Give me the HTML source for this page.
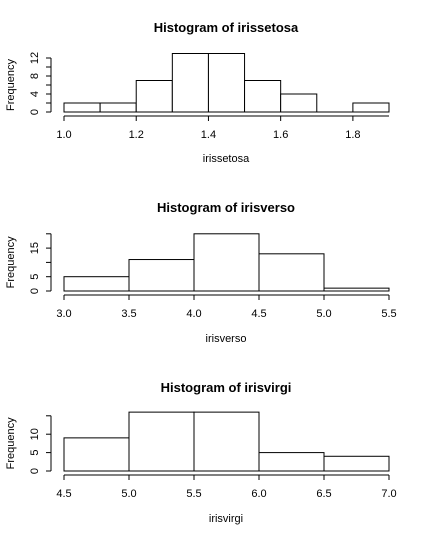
<!DOCTYPE html>
<html><head><meta charset="utf-8"><style>
body{margin:0;background:#fff}
svg{display:block;font-family:"Liberation Sans",Arial,sans-serif}
</style></head><body>
<svg id="c" width="428" height="538" xmlns="http://www.w3.org/2000/svg"></svg>
<script>
const titles=["Histogram of irissetosa","Histogram of irisverso","Histogram of irisvirgi"];
const xlabels=["irissetosa","irisverso","irisvirgi"];
const breaks1=[1.0,1.1,1.2,1.3,1.4,1.5,1.6,1.7,1.8,1.9];
const counts1=[2,2,7,13,13,7,4,0,2];
const breaks2=[3.0,3.5,4.0,4.5,5.0,5.5];
const counts2=[5,11,20,13,1];
const breaks3=[4.5,5.0,5.5,6.0,6.5,7.0];
const counts3=[9,16,16,5,4];
const xticks1=["1.0","1.2","1.4","1.6","1.8"];
const xticks2=["3.0","3.5","4.0","4.5","5.0","5.5"];
const xticks3=["4.5","5.0","5.5","6.0","6.5","7.0"];
const yticks1=[0,2,4,6,8,10,12];const ylab1=[0,4,8,12];
const yticks2=[0,5,10,15,20];const ylab2=[0,5,15];
const yticks3=[0,5,10,15];const ylab3=[0,5,10];
const panels=[
 {b:breaks1,c:counts1,xt:xticks1,yt:yticks1,yl:ylab1,base:112,ppu:4.5,top:0},
 {b:breaks2,c:counts2,xt:xticks2,yt:yticks2,yl:ylab2,base:291,ppu:2.86,top:180},
 {b:breaks3,c:counts3,xt:xticks3,yt:yticks3,yl:ylab3,base:471,ppu:3.68,top:360}];
const svg=document.getElementById('c');const NS="http://www.w3.org/2000/svg";
function el(t,a,txt){const e=document.createElementNS(NS,t);for(const k in a)e.setAttribute(k,a[k]);if(txt!==undefined)e.textContent=txt;svg.appendChild(e);return e;}
panels.forEach((p,i)=>{
 const x0=64,x1=389,bmin=p.b[0],bmax=p.b[p.b.length-1];
 const X=v=>x0+(v-bmin)/(bmax-bmin)*(x1-x0);
 const Y=v=>p.base-v*p.ppu;
 let t=el('text',{x:226,y:p.top+32,'text-anchor':'middle','font-size':13,'font-weight':'bold'},titles[i]);
 
 
 for(let k=0;k<p.c.length;k++){
  const r=el('rect',{x:X(p.b[k]),y:Y(p.c[k]),width:X(p.b[k+1])-X(p.b[k]),height:p.c[k]*p.ppu,fill:'#fff',stroke:'#000','stroke-width':1});
  
  
 }
 let bl=el('line',{x1:x0,x2:x1,y1:p.base,y2:p.base,stroke:'#000'});
 
 
 const ax=p.base+4;
 let l=el('line',{x1:x0,x2:x1,y1:ax,y2:ax,stroke:'#000'});
 
 
 p.xt.forEach(s=>{const xv=X(parseFloat(s));
  el('line',{x1:xv,x2:xv,y1:ax,y2:ax+5,stroke:'#000'});
  const tt=el('text',{x:xv,y:ax+22,'text-anchor':'middle','font-size':11},s);
  
  });
 const ya=51;
 let yl=el('line',{x1:ya,x2:ya,y1:Y(p.yt[0]),y2:Y(p.yt[p.yt.length-1]),stroke:'#000'});
 
 
 p.yt.forEach(v=>el('line',{x1:ya-5,x2:ya,y1:Y(v),y2:Y(v),stroke:'#000'}));
 p.yl.forEach(v=>{const tt=el('text',{x:0,y:0,'text-anchor':'middle','font-size':11,transform:`translate(38,${Y(v)}) rotate(-90)`},String(v));
  
  });
 const ym=(Y(p.yt[0])+Y(p.yt[p.yt.length-1]))/2;
 let yt=el('text',{x:0,y:0,'text-anchor':'middle','font-size':11,transform:`translate(14,${ym}) rotate(-90)`},'Frequency');
 
 
 let xt=el('text',{x:226,y:p.top+162,'text-anchor':'middle','font-size':11},xlabels[i]);
 
 
});
</script>
</body></html>
